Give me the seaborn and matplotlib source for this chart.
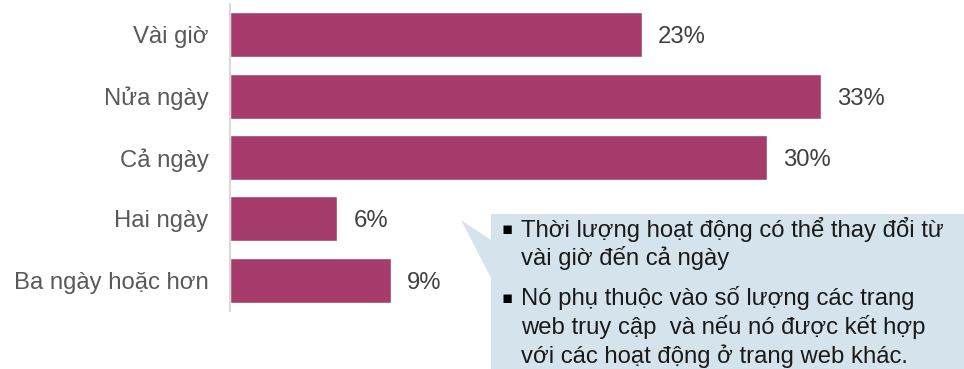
import matplotlib
matplotlib.use("Agg")
import matplotlib.pyplot as plt
import seaborn as sns
import pandas as pd
from matplotlib.patches import Polygon

categories = ["Vài giờ", "Nửa ngày", "Cả ngày", "Hai ngày", "Ba ngày hoặc hơn"]
values = [23, 33, 30, 6, 9]
value_labels = ["23%", "33%", "30%", "6%", "9%"]
note_lines = [
    ("▪", "Thời lượng hoạt động có thể thay đổi từ"),
    ("", "vài giờ đến cả ngày"),
    ("▪", "Nó phụ thuộc vào số lượng các trang"),
    ("", "web truy cập  và nếu nó được kết hợp"),
    ("", "với các hoạt động ở trang web khác."),
]

sns.set_theme(style="white")
plt.rcParams["font.family"] = ["Liberation Sans", "DejaVu Sans"]

W, H = 964, 369
fig = plt.figure(figsize=(W / 100, H / 100), dpi=100)
ax = fig.add_axes([230 / W, 1 - 311 / H, (W - 230) / W, (311 - 4) / H])

df = pd.DataFrame({"cat": categories, "val": values})
sns.barplot(data=df, y="cat", x="val", orient="h", color="#A63C6C",
            saturation=1, width=0.73, ax=ax)

ax.set_xlim(0, (W - 230) / 17.9)
ax.set_ylim(4.5, -0.5)
ax.set_xlabel("")
ax.set_ylabel("")
ax.set_xticks([])
for s in ["top", "right", "bottom"]:
    ax.spines[s].set_visible(False)
ax.spines["left"].set_color("#D9D9D9")
ax.spines["left"].set_linewidth(1.5)
ax.tick_params(axis="y", length=0, pad=15.5, labelsize=17.2, labelcolor="#595959")
for t in ax.get_yticklabels():
    t.set_va("center_baseline")

for i, (v, lab) in enumerate(zip(values, value_labels)):
    ax.annotate(lab, (v, i), xytext=(11.5, 0), textcoords="offset points",
                va="center_baseline", ha="left", fontsize=17.2, color="#404040")

# callout box
pts = [(491, 214), (964, 214), (964, 369), (491, 369), (491, 278), (461, 220), (491, 240)]
poly = Polygon([(x / W, 1 - y / H) for x, y in pts], closed=True,
               transform=fig.transFigure, facecolor="#D5E4EC", edgecolor="none", zorder=5)
fig.add_artist(poly)

ys = [229, 258, 298, 327, 356]
for (b, t), y in zip(note_lines, ys):
    if b:
        fig.text(507 / W, 1 - y / H, b, ha="center", va="center", fontsize=12,
                 color="#000000", family=["DejaVu Sans"], zorder=6)
    fig.text(521 / W, 1 - y / H, t, ha="left", va="center", fontsize=17.2,
             color="#1A1A1A", zorder=6)

fig.savefig("out.png", dpi=100)
